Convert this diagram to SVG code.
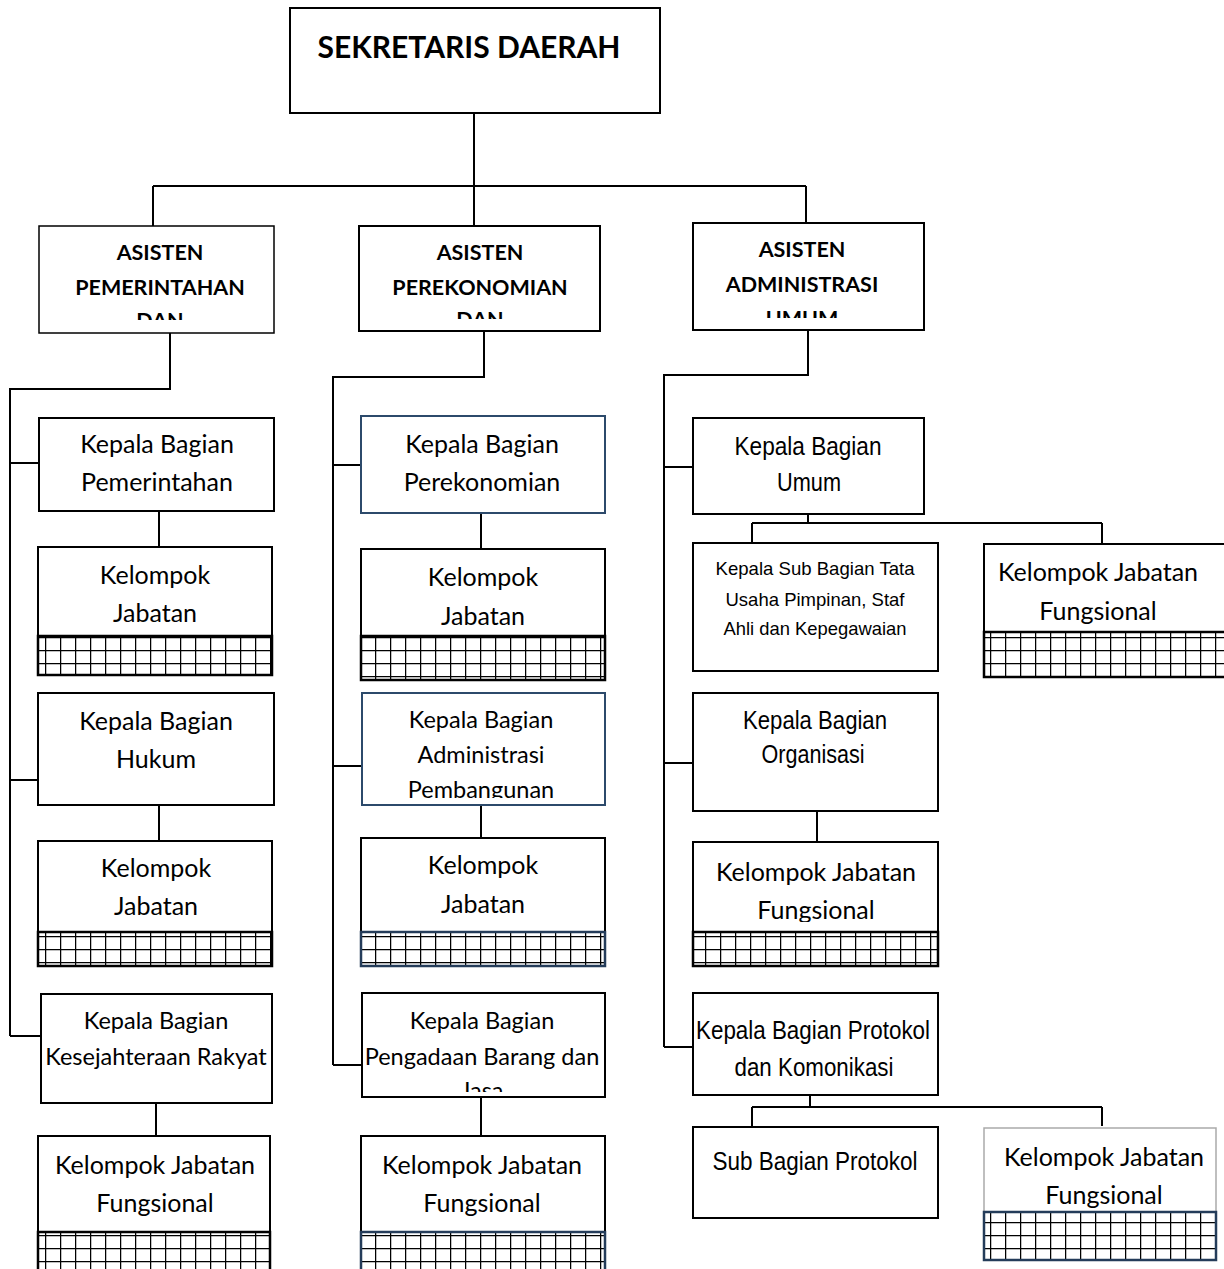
<svg xmlns="http://www.w3.org/2000/svg" width="1224" height="1269" viewBox="0 0 1224 1269">
<style>
.box{fill:#fff;stroke:#000;stroke-width:2}
.bbox{fill:#fff;stroke:#2c4a6b;stroke-width:2}
.gbox{fill:#fff;stroke:#aaa;stroke-width:1.5}
.grid{fill:url(#grid);stroke:#000;stroke-width:2.5}
.bgrid{fill:url(#grid);stroke:#243c5a;stroke-width:2.5}
.c{font-family:Lato,"Open Sans",sans-serif;font-size:25px;fill:#000;text-anchor:middle}
.cs{font-family:Lato,"Open Sans",sans-serif;font-size:23.5px;fill:#000;text-anchor:middle}
.a{font-family:"Liberation Sans",Arial,sans-serif;font-size:25px;fill:#000;text-anchor:middle}
.as{font-family:"Liberation Sans",Arial,sans-serif;font-size:19px;fill:#000;text-anchor:middle}
.b{font-family:Lato,"Open Sans",sans-serif;font-size:21.5px;font-weight:bold;fill:#000;text-anchor:middle}
.conn path{fill:none;stroke:#000;stroke-width:2}
</style>
<defs>
<pattern id="grid" patternUnits="userSpaceOnUse" width="15" height="13" x="0" y="0">
<rect width="15" height="13" fill="#fff"/>
<path d="M0.5 0V13M0 0.5H15" stroke="#000" stroke-width="1.5" fill="none"/>
</pattern>
<clipPath id="k1"><rect x="39" y="226" width="235" height="94"/></clipPath>
<clipPath id="k2"><rect x="359" y="226" width="241" height="93"/></clipPath>
<clipPath id="k3"><rect x="693" y="223" width="231" height="95"/></clipPath>
<clipPath id="k4"><rect x="362" y="693" width="243" height="105"/></clipPath>
<clipPath id="k5"><rect x="362" y="993" width="243" height="99"/></clipPath>
<clipPath id="k6"><rect x="693" y="842" width="245" height="80"/></clipPath>
<clipPath id="k7"><rect x="984" y="1128" width="232" height="82"/></clipPath>
</defs>

<g id="connectors" class="conn">
<path d="M474 113V186M153 186H806M153 186V226M474 186V226M806 186V223"/>
<path d="M170 333V389H10V1036M10 463H39M10 780H38M10 1036H41"/>
<path d="M159 511V547M159 805V841M156 1103V1136"/>
<path d="M484 331V377H333V1065M333 465H361M333 766H362M333 1065H362"/>
<path d="M481 513V549M481 805V838M481 1097V1136"/>
<path d="M808 330V375H664V1047M664 467H693M664 763H693M664 1047H693"/>
<path d="M808 514V523M752 523H1102M752 523V543M1102 523V544"/>
<path d="M817 811V842"/>
<path d="M810 1095V1107M752 1107H1102M752 1107V1127M1102 1107V1126"/>
</g>

<g id="sekda">
<rect class="box" x="290" y="8" width="370" height="105"/>
<text class="b" x="469" y="58" style="font-size:30px">SEKRETARIS DAERAH</text>
</g>

<g id="asisten1">
<rect class="box" x="39" y="226" width="235" height="107" style="stroke-width:1.5"/>
<g clip-path="url(#k1)">
<text class="b" x="160" y="260">ASISTEN</text>
<text class="b" x="160" y="295">PEMERINTAHAN</text>
<text class="b" x="160" y="328">DAN</text>
</g>
</g>
<g id="asisten2">
<rect class="box" x="359" y="226" width="241" height="105"/>
<g clip-path="url(#k2)">
<text class="b" x="480" y="260">ASISTEN</text>
<text class="b" x="480" y="295">PEREKONOMIAN</text>
<text class="b" x="480" y="327">DAN</text>
</g>
</g>
<g id="asisten3">
<rect class="box" x="693" y="223" width="231" height="107"/>
<g clip-path="url(#k3)">
<text class="b" x="802" y="257">ASISTEN</text>
<text class="b" x="802" y="292">ADMINISTRASI</text>
<text class="b" x="802" y="326">UMUM</text>
</g>
</g>

<!-- Column 1 -->
<g id="kb-pemerintahan">
<rect class="box" x="39" y="418" width="235" height="93"/>
<text class="c" x="157" y="453">Kepala Bagian</text>
<text class="c" x="157" y="491">Pemerintahan</text>
</g>
<g id="kj1">
<rect class="box" x="38" y="547" width="234" height="89"/>
<rect class="grid" x="38" y="636" width="234" height="39"/>
<text class="c" x="155" y="584">Kelompok</text>
<text class="c" x="155" y="622">Jabatan</text>
</g>
<g id="kb-hukum">
<rect class="box" x="38" y="693" width="236" height="112"/>
<text class="c" x="156" y="730">Kepala Bagian</text>
<text class="c" x="156" y="768">Hukum</text>
</g>
<g id="kj2">
<rect class="box" x="38" y="841" width="234" height="91"/>
<rect class="grid" x="38" y="932" width="234" height="34"/>
<text class="c" x="156" y="877">Kelompok</text>
<text class="c" x="156" y="915">Jabatan</text>
</g>
<g id="kb-kesra">
<rect class="box" x="41" y="994" width="231" height="109"/>
<text class="cs" x="156" y="1029">Kepala Bagian</text>
<text class="cs" x="156" y="1065">Kesejahteraan Rakyat</text>
</g>
<g id="kjf1">
<rect class="box" x="38" y="1136" width="232" height="96"/>
<rect class="grid" x="38" y="1232" width="232" height="45"/>
<text class="c" x="155" y="1174">Kelompok Jabatan</text>
<text class="c" x="155" y="1212">Fungsional</text>
</g>

<!-- Column 2 -->
<g id="kb-perekonomian">
<rect class="bbox" x="361" y="416" width="244" height="97"/>
<text class="c" x="482" y="453">Kepala Bagian</text>
<text class="c" x="482" y="491">Perekonomian</text>
</g>
<g id="kj3">
<rect class="box" x="361" y="549" width="244" height="87"/>
<rect class="grid" x="361" y="636" width="244" height="44"/>
<text class="c" x="483" y="586">Kelompok</text>
<text class="c" x="483" y="625">Jabatan</text>
</g>
<g id="kb-adpem">
<rect class="bbox" x="362" y="693" width="243" height="112"/>
<g clip-path="url(#k4)">
<text class="cs" x="481" y="728">Kepala Bagian</text>
<text class="cs" x="481" y="763">Administrasi</text>
<text class="cs" x="481" y="798">Pembangunan</text>
</g>
</g>
<g id="kj4">
<rect class="box" x="361" y="838" width="244" height="94"/>
<rect class="bgrid" x="361" y="932" width="244" height="34"/>
<text class="c" x="483" y="874">Kelompok</text>
<text class="c" x="483" y="913">Jabatan</text>
</g>
<g id="kb-pbj">
<rect class="box" x="362" y="993" width="243" height="104"/>
<g clip-path="url(#k5)">
<text class="cs" x="482" y="1029">Kepala Bagian</text>
<text class="cs" x="482" y="1065">Pengadaan Barang dan</text>
<text class="cs" x="482" y="1099">Jasa</text>
</g>
</g>
<g id="kjf2">
<rect class="box" x="361" y="1136" width="244" height="96"/>
<rect class="bgrid" x="361" y="1232" width="244" height="45"/>
<text class="c" x="482" y="1174">Kelompok Jabatan</text>
<text class="c" x="482" y="1212">Fungsional</text>
</g>

<!-- Column 3 -->
<g id="kb-umum">
<rect class="box" x="693" y="418" width="231" height="96"/>
<text class="a" x="808" y="455" textLength="147" lengthAdjust="spacingAndGlyphs">Kepala Bagian</text>
<text class="a" x="809" y="491" textLength="64" lengthAdjust="spacingAndGlyphs">Umum</text>
</g>
<g id="ksb-tu">
<rect class="box" x="693" y="543" width="245" height="128"/>
<text class="as" x="815" y="575" textLength="199" lengthAdjust="spacingAndGlyphs">Kepala Sub Bagian Tata</text>
<text class="as" x="815" y="606" textLength="179" lengthAdjust="spacingAndGlyphs">Usaha Pimpinan, Staf</text>
<text class="as" x="815" y="635" textLength="183" lengthAdjust="spacingAndGlyphs">Ahli dan Kepegawaian</text>
</g>
<g id="kjf3">
<rect class="box" x="984" y="544" width="250" height="88"/>
<rect class="grid" x="984" y="632" width="250" height="45"/>
<text class="c" x="1098" y="581">Kelompok Jabatan</text>
<text class="c" x="1098" y="620">Fungsional</text>
</g>
<g id="kb-organisasi">
<rect class="box" x="693" y="693" width="245" height="118"/>
<text class="a" x="815" y="729" textLength="144" lengthAdjust="spacingAndGlyphs">Kepala Bagian</text>
<text class="a" x="813" y="763" textLength="103" lengthAdjust="spacingAndGlyphs">Organisasi</text>
</g>
<g id="kjf4">
<rect class="box" x="693" y="842" width="245" height="90"/>
<rect class="grid" x="693" y="932" width="245" height="34"/>
<g clip-path="url(#k6)">
<text class="c" x="816" y="881">Kelompok Jabatan</text>
<text class="c" x="816" y="919">Fungsional</text>
</g>
</g>
<g id="kb-protokol">
<rect class="box" x="693" y="993" width="245" height="102"/>
<text class="a" x="813" y="1039" textLength="234" lengthAdjust="spacingAndGlyphs">Kepala Bagian Protokol</text>
<text class="a" x="814" y="1076" textLength="159" lengthAdjust="spacingAndGlyphs">dan Komonikasi</text>
</g>
<g id="sb-protokol">
<rect class="box" x="693" y="1127" width="245" height="91"/>
<text class="a" x="815" y="1170" textLength="205" lengthAdjust="spacingAndGlyphs">Sub Bagian Protokol</text>
</g>
<g id="kjf5">
<rect class="gbox" x="984" y="1128" width="232" height="84"/>
<rect class="bgrid" x="984" y="1212" width="232" height="48"/>
<g clip-path="url(#k7)">
<text class="c" x="1104" y="1166">Kelompok Jabatan</text>
<text class="c" x="1104" y="1204">Fungsional</text>
</g>
</g>
</svg>
